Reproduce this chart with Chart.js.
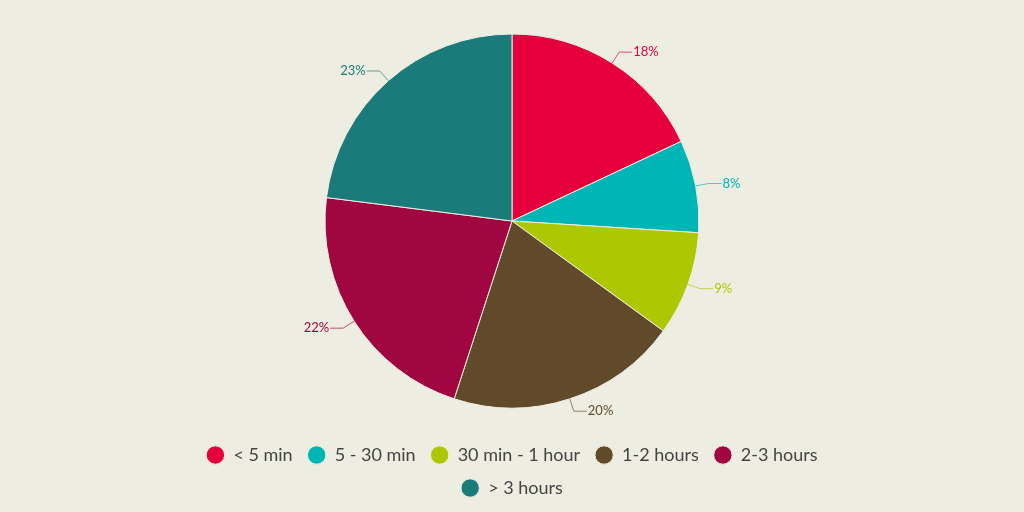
<!DOCTYPE html>
<html>
<head>
<meta charset="utf-8">
<script src="https://cdn.jsdelivr.net/npm/chart.js@4/dist/chart.umd.min.js"></script>
<style>
    html, body { margin: 0; padding: 0; background: #EEEDE1; }
    #wrap { width: 1024px; height: 512px; }
</style>
</head>
<body>
<div id="wrap"><canvas id="grafica" width="1024" height="512"></canvas></div>
<script>
"use strict";

const categorias = ["< 5 min", "5 - 30 min", "30 min - 1 hour", "1-2 hours", "2-3 hours", "> 3 hours"];
const valores = [18, 8, 9, 20, 22, 23];
const colores = ["#E5003D", "#00B5B5", "#ADC800", "#614A2A", "#A00640", "#1B7B7A"];

const FONT = "Lato, 'PT Sans', 'Noto Sans', sans-serif";

/**
 * Etiquetas externas con linea guia
 */
const etiquetasExternas = {
    id: "etiquetasExternas",
    afterDatasetsDraw(chart) {
        const { ctx } = chart;
        const meta = chart.getDatasetMeta(0);
        const total = valores.reduce((a, b) => a + b, 0);

        ctx.save();
        meta.data.forEach((arc, i) => {
            const { x, y, outerRadius, startAngle, endAngle } = arc.getProps(
                ["x", "y", "outerRadius", "startAngle", "endAngle"], true
            );
            const mid = (startAngle + endAngle) / 2;
            const cos = Math.cos(mid);
            const sin = Math.sin(mid);
            const x1 = x + cos * outerRadius;
            const y1 = y + sin * outerRadius;
            const x2 = x + cos * (outerRadius + 13);
            const y2 = y + sin * (outerRadius + 13);
            const derecha = cos >= 0;
            const x3 = x2 + (derecha ? 13 : -13);

            ctx.strokeStyle = colores[i] + "AA";
            ctx.lineWidth = 1;
            ctx.beginPath();
            ctx.moveTo(x1, y1);
            ctx.lineTo(x2, y2);
            ctx.lineTo(x3, y2);
            ctx.stroke();

            ctx.fillStyle = colores[i];
            ctx.font = "13px " + FONT;
            ctx.textBaseline = "middle";
            ctx.textAlign = derecha ? "left" : "right";
            const pct = Math.round((valores[i] / total) * 100) + "%";
            ctx.fillText(pct, x3 + (derecha ? 1 : -1), y2);
        });
        ctx.restore();
    },
};

new Chart(document.querySelector("#grafica"), {
    type: "pie",
    data: {
        labels: categorias,
        datasets: [
            {
                data: valores,
                backgroundColor: colores,
                borderColor: "#EEEDE1",
                borderWidth: 1,
                radius: 187,
            },
        ],
    },
    options: {
        responsive: false,
        animation: false,
        layout: {
            padding: { top: 11, bottom: 5, left: 180, right: 180 },
        },
        plugins: {
            tooltip: { enabled: false },
            legend: {
                position: "bottom",
                labels: {
                    usePointStyle: true,
                    boxHeight: 13,
                    padding: 15,
                    color: "#444444",
                    font: { family: FONT, size: 18 },
                },
            },
        },
    },
    plugins: [etiquetasExternas],
});
</script>
</body>
</html>
